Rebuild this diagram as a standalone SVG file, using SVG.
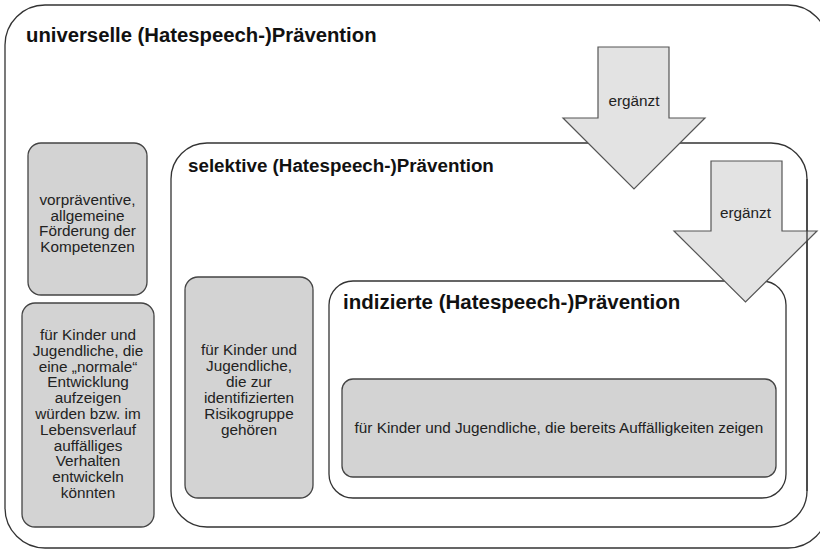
<svg xmlns="http://www.w3.org/2000/svg" width="820" height="551" viewBox="0 0 820 551">
<style>
.frame{fill:#fff;stroke:#333;stroke-width:1.3}
.box{fill:#d3d3d3;stroke:#444;stroke-width:1.3}
.arrow{fill:#e3e3e3;stroke:#555;stroke-width:1.2}
.title{font-family:"Liberation Sans",Arial,sans-serif;font-weight:bold;font-size:20.3px;fill:#111}
.t{font-family:"Liberation Sans",Arial,sans-serif;font-size:15.3px;fill:#222;text-anchor:middle}
</style>
<rect width="820" height="551" fill="#fff"/>
<g id="universelle">
<rect class="frame" x="5" y="5" width="823" height="543" rx="40" ry="40"/>
<text class="title" x="26" y="42">universelle (Hatespeech-)Prävention</text>
</g>
<g id="vorpraeventiv">
<rect class="box" x="28" y="143" width="119" height="152" rx="13"/>
<text class="t" x="87.5" y="205">vorpräventive,</text>
<text class="t" x="87.5" y="220.5">allgemeine</text>
<text class="t" x="87.5" y="236">Förderung der</text>
<text class="t" x="87.5" y="251.5">Kompetenzen</text>
</g>
<g id="universell-zielgruppe">
<rect class="box" x="22" y="303" width="132" height="224" rx="13"/>
<text class="t" x="88" y="340">für Kinder und</text>
<text class="t" x="88" y="355.8">Jugendliche, die</text>
<text class="t" x="88" y="371.6">eine „normale“</text>
<text class="t" x="88" y="387.4">Entwicklung</text>
<text class="t" x="88" y="403.2">aufzeigen</text>
<text class="t" x="88" y="419">würden bzw. im</text>
<text class="t" x="88" y="434.8">Lebensverlauf</text>
<text class="t" x="88" y="450.6">auffälliges</text>
<text class="t" x="88" y="466.4">Verhalten</text>
<text class="t" x="88" y="482.2">entwickeln</text>
<text class="t" x="88" y="498">könnten</text>
</g>
<g id="selektive">
<rect class="frame" x="171" y="143" width="636" height="384" rx="36" ry="36"/>
<text class="title" x="188" y="172" style="font-size:18.8px">selektive (Hatespeech-)Prävention</text>
</g>
<g id="selektiv-zielgruppe">
<rect class="box" x="185" y="277" width="128" height="221" rx="13"/>
<text class="t" x="249" y="355">für Kinder und</text>
<text class="t" x="249" y="371">Jugendliche,</text>
<text class="t" x="249" y="387">die zur</text>
<text class="t" x="249" y="403">identifizierten</text>
<text class="t" x="249" y="419">Risikogruppe</text>
<text class="t" x="249" y="435">gehören</text>
</g>
<g id="indizierte">
<rect class="frame" x="329" y="281" width="457" height="217" rx="24" ry="24"/>
<text class="title" x="343" y="309" style="font-size:20.5px">indizierte (Hatespeech-)Prävention</text>
</g>
<g id="indiziert-zielgruppe">
<rect class="box" x="342" y="379" width="434" height="98" rx="11"/>
<text class="t" x="559" y="433">für Kinder und Jugendliche, die bereits Auffälligkeiten zeigen</text>
</g>
<g id="connectors">
<g id="ergaenzt-1">
<polygon class="arrow" points="598,47 669,47 669,118 705,118 634,189 563,118 598,118"/>
<text class="t" x="634" y="106">ergänzt</text>
</g>
<g id="ergaenzt-2">
<polygon class="arrow" points="711,161 782,161 782,231 817,231 745.5,302 674,231 711,231"/>
<text class="t" x="745.5" y="218">ergänzt</text>
</g>
<path d="M807 179 V491" fill="none" stroke="#333" stroke-width="1.3"/>
</g>
</svg>
